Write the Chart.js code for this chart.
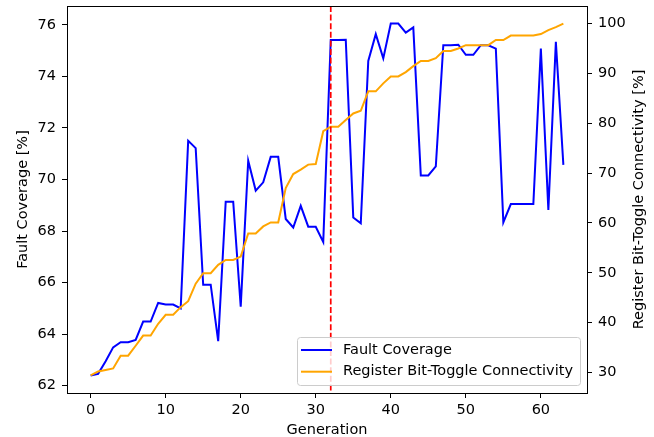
<!DOCTYPE html>
<html>
<head>
<meta charset="utf-8">
<script src="https://cdn.jsdelivr.net/npm/chart.js@4.4.0/dist/chart.umd.min.js"></script>
<style>
  html, body { margin: 0; padding: 0; background: #fff; }
</style>
</head>
<body>
<canvas id="chart" width="654" height="437"></canvas>
<script>
// data
const generations = [0, 1, 2, 3, 4, 5, 6, 7, 8, 9, 10, 11, 12, 13, 14, 15, 16, 17, 18, 19,
  20, 21, 22, 23, 24, 25, 26, 27, 28, 29, 30, 31, 32, 33, 34, 35, 36, 37, 38, 39,
  40, 41, 42, 43, 44, 45, 46, 47, 48, 49, 50, 51, 52, 53, 54, 55, 56, 57, 58, 59,
  60, 61, 62, 63];
const faultCoverage = [62.40, 62.46, 62.95, 63.49, 63.69, 63.69, 63.78, 64.49, 64.49, 65.21,
  65.15, 65.15, 65.00, 71.50, 71.22, 65.92, 65.92, 63.73, 69.14, 69.14,
  65.07, 70.73, 69.57, 69.89, 70.88, 70.88, 68.47, 68.14, 68.98, 68.17,
  68.17, 67.58, 75.41, 75.41, 75.42, 68.53, 68.30, 74.60, 75.64, 74.70,
  76.05, 76.05, 75.70, 75.90, 70.16, 70.16, 70.51, 75.21, 75.21, 75.23,
  74.84, 74.84, 75.21, 75.21, 75.08, 68.34, 69.05, 69.05, 69.05, 69.05,
  75.08, 68.82, 75.34, 70.57];
const connectivity = [29.4, 30.2, 30.5, 30.8, 33.35, 33.35, 35.35, 37.4, 37.4, 39.76,
  41.56, 41.56, 43.1, 44.3, 47.8, 49.9, 49.9, 51.58, 52.58, 52.58,
  53.25, 57.9, 57.9, 59.3, 60.1, 60.1, 67.0, 69.8, 70.7, 71.7,
  71.8, 78.4, 79.3, 79.3, 80.64, 81.97, 82.5, 86.4, 86.4, 88.0,
  89.4, 89.4, 90.26, 91.46, 92.5, 92.5, 93.07, 94.5, 94.5, 95.0,
  95.67, 95.67, 95.67, 95.67, 96.7, 96.7, 97.6, 97.6, 97.6, 97.6,
  97.9, 98.7, 99.3, 100];
const markerGeneration = 32;
const xTicks = [0, 10, 20, 30, 40, 50, 60];
const leftTicks = [62, 64, 66, 68, 70, 72, 74, 76];
const rightTicks = [30, 40, 50, 60, 70, 80, 90, 100];

const FONT = 'DejaVu Sans';
const FS = 14.5;

// matplotlib style 5% margins
function padRange(arr) {
  let lo = Math.min(...arr), hi = Math.max(...arr);
  let m = (hi - lo) * 0.05;
  return [lo - m, hi + m];
}
const xRange = padRange(generations);
const leftRange = padRange(faultCoverage);
const rightRange = padRange(connectivity);

function pts(ys) {
  return generations.map((g, i) => ({x: g, y: ys[i]}));
}

function axisCommon(ticks, pad) {
  return {
    afterBuildTicks: s => { s.ticks = ticks.map(v => ({value: v})); },
    grid: { display: true, drawOnChartArea: false, drawTicks: true, tickLength: 5, tickColor: '#000', tickWidth: 1 },
    border: { display: true, color: '#000', width: 1 },
    ticks: { color: '#000', padding: pad, font: { family: FONT, size: FS } }
  };
}

function fixBox(w, h) {
  return s => {
    if (w) s.width = w;
    if (h) s.height = h;
    s.paddingTop = 0; s.paddingBottom = 0; s.paddingLeft = 0; s.paddingRight = 0;
  };
}

// frame, red marker line, legend, right axis title
const decor = {
  id: 'decor',
  afterDatasetsDraw(chart) {
    const {ctx, chartArea: a, scales} = chart;
    ctx.save();
    // marker
    let mx = scales.x.getPixelForValue(markerGeneration);
    ctx.strokeStyle = '#ff0000';
    ctx.lineWidth = 1.7;
    ctx.setLineDash([6, 2.6]);
    ctx.beginPath();
    ctx.moveTo(mx, a.top);
    ctx.lineTo(mx, a.bottom);
    ctx.stroke();
    ctx.setLineDash([]);
    // frame
    ctx.strokeStyle = '#000';
    ctx.lineWidth = 1;
    ctx.strokeRect(Math.round(a.left) + 0.5, Math.round(a.top) + 0.5,
      Math.round(a.right - a.left), Math.round(a.bottom - a.top));

    // legend box
    let bx = 297, by = 337, bw = 283, bh = 48;
    ctx.fillStyle = 'rgba(255,255,255,0.8)';
    ctx.strokeStyle = '#cccccc';
    ctx.beginPath();
    ctx.roundRect(bx + 0.5, by + 0.5, bw, bh, 3);
    ctx.fill();
    ctx.stroke();
    ctx.font = FS + 'px "' + FONT + '"';
    ctx.textBaseline = 'middle';
    chart.data.datasets.forEach((ds, i) => {
      let cy = by + 13 + i * 21.7;
      ctx.strokeStyle = ds.borderColor;
      ctx.lineWidth = 2;
      ctx.beginPath();
      ctx.moveTo(bx + 4, cy);
      ctx.lineTo(bx + 35, cy);
      ctx.stroke();
      ctx.fillStyle = '#000';
      ctx.fillText(ds.label, bx + 46, cy);
    });

    // right axis title, reading bottom to top like matplotlib
    ctx.translate(639, (a.top + a.bottom) / 2);
    ctx.rotate(-Math.PI / 2);
    ctx.textAlign = 'center';
    ctx.fillStyle = '#000';
    ctx.fillText('Register Bit-Toggle Connectivity [%]', 0, 0);
    ctx.restore();
  }
};

const ctx = document.getElementById('chart');
new Chart(ctx, {
  type: 'line',
  plugins: [decor],
  data: {
    datasets: [{
      label: 'Fault Coverage',
      data: pts(faultCoverage),
      yAxisID: 'y',
      borderColor: '#0000ff',
      borderWidth: 2,
      pointRadius: 0,
      tension: 0,
      order: 1
    }, {
      label: 'Register Bit-Toggle Connectivity',
      data: pts(connectivity),
      yAxisID: 'y1',
      borderColor: '#ffa500',
      borderWidth: 2,
      pointRadius: 0,
      tension: 0,
      order: 0
    }]
  },
  options: {
    responsive: false,
    animation: false,
    devicePixelRatio: 1,
    layout: { padding: { top: 6, left: 0, right: 0, bottom: 0 } },
    plugins: { legend: { display: false }, tooltip: { enabled: false } },
    scales: {
      x: Object.assign(axisCommon(xTicks, 4), {
        type: 'linear', min: xRange[0], max: xRange[1],
        afterFit: fixBox(0, 44),
        title: { display: true, text: 'Generation', color: '#000', font: { family: FONT, size: FS, lineHeight: 1 }, padding: { top: 0, bottom: 0 } }
      }),
      y: Object.assign(axisCommon(leftTicks, 6), {
        type: 'linear', position: 'left', min: leftRange[0], max: leftRange[1],
        afterFit: fixBox(67, 0),
        title: { display: true, text: 'Fault Coverage [%]', color: '#000', font: { family: FONT, size: FS, lineHeight: 1 }, padding: { top: 16, bottom: 0 } }
      }),
      y1: Object.assign(axisCommon(rightTicks, 6), {
        type: 'linear', position: 'right', min: rightRange[0], max: rightRange[1],
        afterFit: fixBox(67, 0)
      })
    }
  }
});
</script>
</body>
</html>
